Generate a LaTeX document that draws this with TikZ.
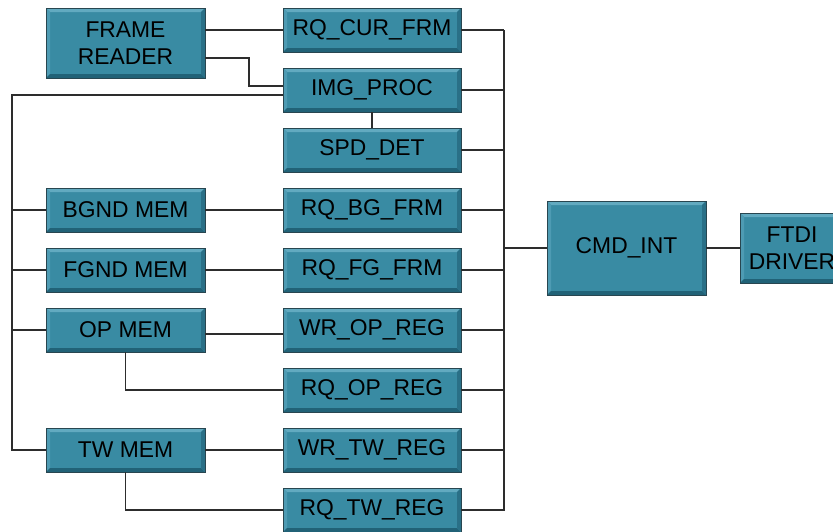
\documentclass[tikz,border=0pt]{standalone}
\usepackage{fontspec}
\setmainfont{Liberation Sans}
\usetikzlibrary{positioning,calc}

\definecolor{boxteal}{RGB}{57,139,163}
\definecolor{bevlight}{RGB}{98,170,192}
\definecolor{bevleft}{RGB}{78,155,179}
\definecolor{bevdark}{RGB}{33,98,119}
\definecolor{bevright}{RGB}{42,112,135}
\definecolor{boxedge}{RGB}{40,70,80}
\definecolor{wire}{RGB}{45,45,45}

\begin{document}
\begin{tikzpicture}[
    node distance=0.32cm and 1.56cm,
    box/.style={rectangle, fill=boxteal, draw=boxedge, line width=0.4pt, align=center,
      minimum width=3.56cm, minimum height=0.88cm, inner sep=0pt, outer sep=0pt,
      font=\fontsize{13}{15.3}\selectfont,
      path picture={
        \fill[bevlight] (path picture bounding box.north west) -- (path picture bounding box.north east)
          -- ++(-0.08,-0.08) -- ($(path picture bounding box.north west)+(0.08,-0.08)$) -- cycle;
        \fill[bevleft] (path picture bounding box.north west) -- (path picture bounding box.south west)
          -- ++(0.08,0.08) -- ($(path picture bounding box.north west)+(0.08,-0.08)$) -- cycle;
        \fill[bevdark] (path picture bounding box.south west) -- (path picture bounding box.south east)
          -- ++(-0.08,0.08) -- ($(path picture bounding box.south west)+(0.08,0.08)$) -- cycle;
        \fill[bevright] (path picture bounding box.north east) -- (path picture bounding box.south east)
          -- ++(-0.08,0.08) -- ($(path picture bounding box.north east)+(-0.08,-0.08)$) -- cycle;
      }},
    membox/.style={box, minimum width=3.18cm},
    wire/.style={draw=wire, line width=0.8pt}
]
\useasboundingbox (0,0) rectangle (16.66,-10.62);
\clip (0,0) rectangle (16.66,-10.62);

% Coluna de registradores
\node[box] (rqcur) at (7.44,-0.60) {RQ\_CUR\_FRM};
\node[box, below=of rqcur] (img) {IMG\_PROC};
\node[box, below=of img] (spd) {SPD\_DET};
\node[box, below=of spd] (rqbg) {RQ\_BG\_FRM};
\node[box, below=of rqbg] (rqfg) {RQ\_FG\_FRM};
\node[box, below=of rqfg] (wrop) {WR\_OP\_REG};
\node[box, below=of wrop] (rqop) {RQ\_OP\_REG};
\node[box, below=of rqop] (wrtw) {WR\_TW\_REG};
\node[box, below=of wrtw] (rqtw) {RQ\_TW\_REG};

% Memorias a esquerda
\node[membox, minimum height=1.4cm, below left=0cm and 1.56cm of rqcur.north west] (fr) {FRAME\\READER};
\node[membox, left=of rqbg] (bgnd) {BGND MEM};
\node[membox, left=of rqfg] (fgnd) {FGND MEM};
\node[membox, left=of wrop] (opm) {OP MEM};
\node[membox, left=of wrtw] (twm) {TW MEM};

% Interface de comandos
\node[membox, minimum height=1.88cm, right=1.72cm of rqfg.north east] (cmd) {CMD\_INT};
\node[box, minimum width=2.08cm, minimum height=1.4cm, right=0.68cm of cmd] (ftdi) {FTDI\\DRIVER};

% Ligacoes do leitor de quadros
\draw[wire] (fr.east |- rqcur) -- (rqcur.west);
\coordinate (jfr) at ($(img.west)+(-0.68,0.08)$);
\draw[wire] ($(fr.east)+(0,-0.3)$) -| (jfr) -- (img.west |- jfr);
\draw[wire] (img) -- (spd);

% Barramento da esquerda
\coordinate (lbus) at ($(twm.west)+(-0.68,0)$);
\draw[wire] ($(img.west)+(0,-0.1)$) -| (lbus) -- (twm.west);
\foreach \m in {bgnd,fgnd,opm}
  \draw[wire] (\m.west) -- (\m.west -| lbus);

% Memorias e registradores
\draw[wire] (bgnd) -- (rqbg);
\draw[wire] (fgnd) -- (rqfg);
\draw[wire] ($(opm.east)+(0,-0.08)$) -- ($(wrop.west)+(0,-0.08)$);
\draw[wire] (opm.south) |- (rqop.west);
\draw[wire] (twm) -- (wrtw);
\draw[wire] (twm.south) |- (rqtw.west);

% Barramento da direita
\coordinate (rtop) at ($(rqcur.east)+(0.86,0)$);
\draw[wire] (rtop) -- (rtop |- rqtw.east) -- (rqtw.east);
\foreach \r in {rqcur,img,spd,rqbg,rqfg,wrop,rqop,wrtw}
  \draw[wire] (\r.east) -- (\r.east -| rtop);
\draw[wire] (cmd.west) -- (cmd.west -| rtop);
\draw[wire] (cmd) -- (ftdi);

\end{tikzpicture}
\end{document}
